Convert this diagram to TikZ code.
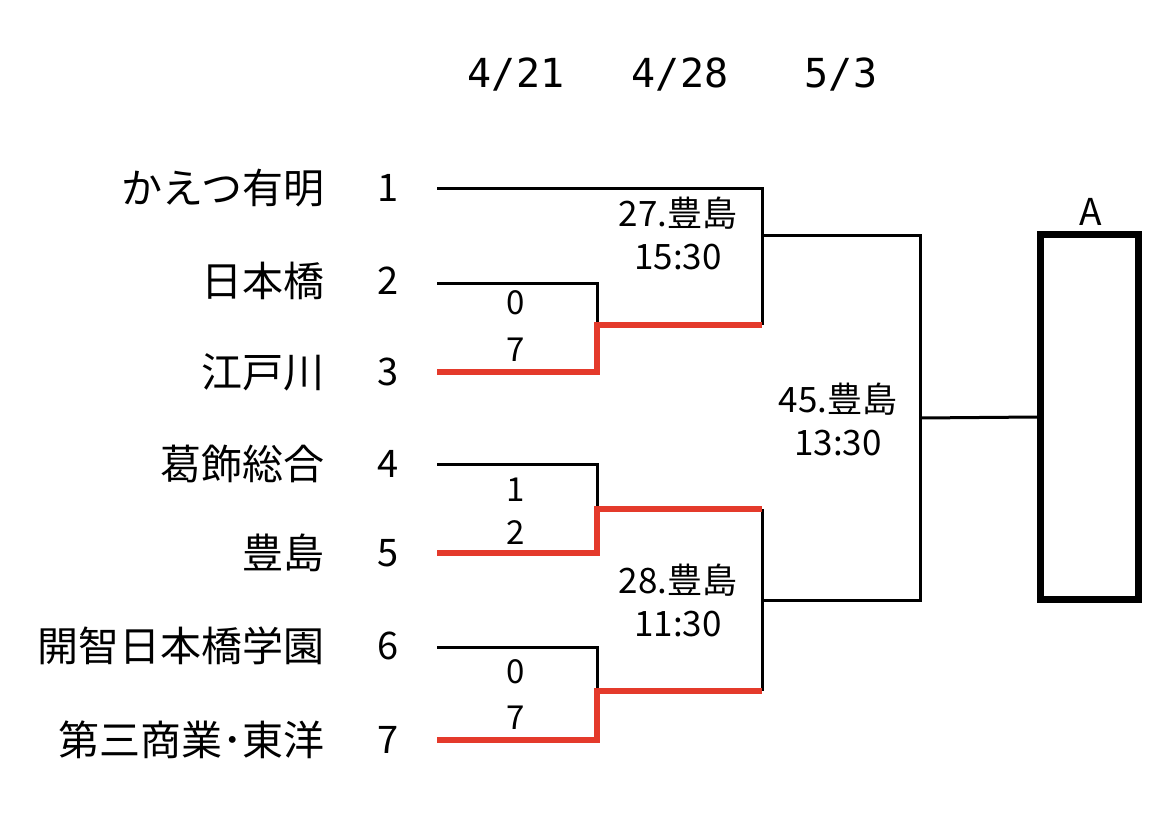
\documentclass[tikz,border=0pt]{standalone}
\usepackage{fontspec}
\setmainfont{Noto Sans CJK JP}
\newfontfamily\datefont{DejaVu Sans Mono}
\usepackage{xcolor}
\usepackage{tikz}
\definecolor{winred}{HTML}{E43A2B}

\begin{document}
\begin{tikzpicture}[x=1pt, y=-1pt,
    team/.style={anchor=east, inner sep=0pt, font=\fontsize{41}{46}\selectfont},
    seed/.style={inner sep=0pt, font=\fontsize{38}{42}\selectfont},
    score/.style={inner sep=0pt, font=\fontsize{33}{38}\selectfont},
    game/.style={inner sep=0pt, align=center, font=\fontsize{35}{43}\selectfont},
    day/.style={inner sep=0pt, font=\datefont\fontsize{40}{44}\selectfont},
    lose/.style={line width=3pt},
    win/.style={line width=6pt, draw=winred}]
    \useasboundingbox (0,0) rectangle (1157,828);

    % Ngày thi đấu
    \node[day] (d1) at (516,75) {4/21};
    \node[day] (d2) at (680,75) {4/28};
    \node[day] (d3) at (841,75) {5/3};

    % Tên trường và số thứ tự
    \node[team] (n1) at (325,188) {かえつ有明};
    \node[team] (n2) at (325,281) {日本橋};
    \node[team] (n3) at (325,372) {江戸川};
    \node[team] (n4) at (325,464) {葛飾総合};
    \node[team] (n5) at (325,553) {豊島};
    \node[team] (n6) at (325,646) {開智日本橋学園};
    \node[team] (n7) at (325,740) {第三商業･東洋};
    \node[seed] (s1) at (388,188) {1};
    \node[seed] (s2) at (388,281) {2};
    \node[seed] (s3) at (388,372) {3};
    \node[seed] (s4) at (388,464) {4};
    \node[seed] (s5) at (388,553) {5};
    \node[seed] (s6) at (388,646) {6};
    \node[seed] (s7) at (388,740) {7};

    % Điểm đầu các nhánh
    \coordinate (t1) at (437,188);
    \coordinate (t2) at (437,283);
    \coordinate (t3) at (437,372);
    \coordinate (t4) at (437,464);
    \coordinate (t5) at (437,553);
    \coordinate (t6) at (437,647);
    \coordinate (t7) at (437,740);
    \coordinate (w23) at (597,325);
    \coordinate (w45) at (597,509);
    \coordinate (w67) at (597,691);
    \coordinate (k1) at (762,235);
    \coordinate (k2) at (762,600);
    \coordinate (fin) at (920,418);

    % Ô kết quả A
    \node[draw, line width=7pt, minimum width=98pt, minimum height=365pt,
        inner sep=0pt] (champ) at (1089.5,417) {};
    \node[inner sep=0pt, font=\fontsize{37}{42}\selectfont] (lblA) at (1091,212) {A};

    % Nhánh thua (đen)
    \draw[lose] (t1) -| (k1 |- w23);
    \draw[lose] (t2) -| (w23);
    \draw[lose] (t4) -| (w45);
    \draw[lose] (t6) -| (w67);
    \draw[lose] (k2 |- w45) -- (k2 |- w67);
    \draw[lose] (k1) -| (fin);
    \draw[lose] (k2) -| (fin);
    \draw[lose] (fin) -- (champ.west);

    % Nhánh thắng (đỏ)
    \draw[win] (t3) -| (w23) -- (k1 |- w23);
    \draw[win] (t5) -| (w45) -- (k2 |- w45);
    \draw[win] (t7) -| (w67) -- (k2 |- w67);

    % Tỉ số
    \node[score] (c2) at (516,303) {0};
    \node[score] (c3) at (516,350) {7};
    \node[score] (c4) at (516,490) {1};
    \node[score] (c5) at (516,533) {2};
    \node[score] (c6) at (516,672) {0};
    \node[score] (c7) at (516,718) {7};

    % Trận đấu
    \node[game] (g27) at (678,233) {27.豊島\\15:30};
    \node[game] (g28) at (678,600) {28.豊島\\11:30};
    \node[game] (g45) at (838,419) {45.豊島\\13:30};
\end{tikzpicture}
\end{document}
